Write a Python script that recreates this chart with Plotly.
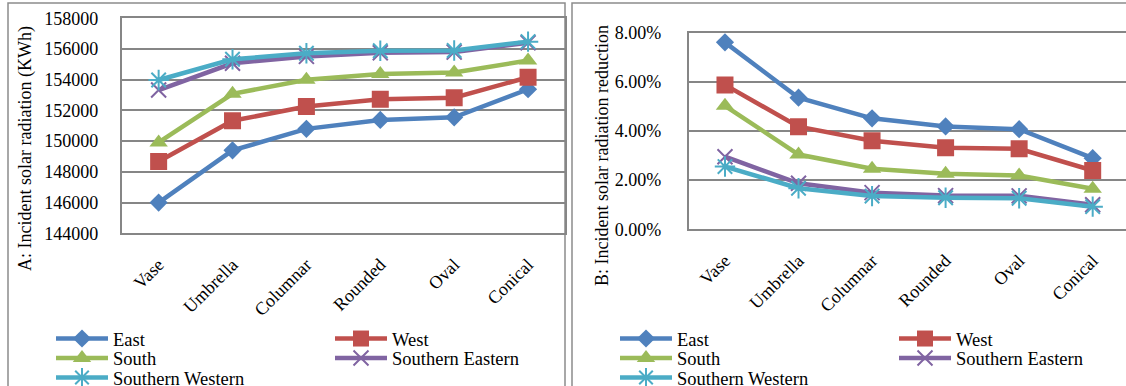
import plotly.graph_objects as go

categories = ["Vase", "Umbrella", "Columnar", "Rounded", "Oval", "Conical"]
series_names = ["East", "West", "South", "Southern Eastern", "Southern Western"]

# Panel A: incident solar radiation (KWh)
a_east = [146000, 149400, 150800, 151380, 151550, 153380]
a_west = [148680, 151330, 152250, 152730, 152830, 154160]
a_south = [149920, 153080, 154000, 154370, 154470, 155250]
a_se = [153330, 155070, 155520, 155760, 155800, 156410]
a_sw = [153980, 155330, 155720, 155890, 155900, 156480]

# Panel B: incident solar radiation reduction (fraction)
b_east = [0.0760, 0.0535, 0.0451, 0.0418, 0.0407, 0.0289]
b_west = [0.0587, 0.0417, 0.0360, 0.0332, 0.0327, 0.0239]
b_south = [0.0502, 0.0304, 0.0246, 0.0226, 0.0219, 0.0165]
b_se = [0.0295, 0.0187, 0.0149, 0.0137, 0.0136, 0.0100]
b_sw = [0.0255, 0.0167, 0.0135, 0.0128, 0.0126, 0.0092]

a_ticks = [144000, 146000, 148000, 150000, 152000, 154000, 156000, 158000]
b_ticks = [0.0, 0.02, 0.04, 0.06, 0.08]

colors = ["#4F81BD", "#C0504D", "#9BBB59", "#8064A2", "#4BACC6"]
symbols = ["diamond", "square", "triangle-up", "x-thin-open", "asterisk-open"]
msizes = [14, 17, 16, 15, 17]
# legend grid slot for each series: (column, row)
legend_slot = [(0, 0), (1, 0), (0, 1), (1, 1), (0, 2)]

W, H = 1126, 386
FONT = "Liberation Serif, Times New Roman, serif"
GRID = "#868686"

def px_x(p):
    return p / W

def px_y(p):
    return 1 - p / H

fig = go.Figure()

a_data = [a_east, a_west, a_south, a_se, a_sw]
b_data = [b_east, b_west, b_south, b_se, b_sw]

LEG_FONT = dict(family=FONT, size=18.5, color="#000")
col_x = {"A": [51, 330], "B": [615, 894]}
row_y = [339, 358.5, 378]

legends = {}
n = 0
for panel, data, xa, ya in [("A", a_data, "x", "y"), ("B", b_data, "x2", "y2")]:
    for i, name in enumerate(series_names):
        n += 1
        lid = "legend" if n == 1 else f"legend{n}"
        c, r = legend_slot[i]
        legends[lid] = dict(orientation="v", x=px_x(col_x[panel][c]), y=px_y(row_y[r]),
                            xanchor="left", yanchor="middle", font=LEG_FONT,
                            bgcolor="rgba(0,0,0,0)", itemwidth=52, borderwidth=0)
        mk = dict(symbol=symbols[i], size=msizes[i], color=colors[i])
        if "open" in symbols[i]:
            mk["line"] = dict(color=colors[i], width=2)
        fig.add_trace(go.Scatter(
            x=categories, y=data[i], name=name, mode="lines+markers",
            line=dict(color=colors[i], width=4.5), marker=mk,
            xaxis=xa, yaxis=ya, legend=lid))

axis_common = dict(showline=True, linecolor=GRID, linewidth=1.5, mirror=True,
                   zeroline=False, ticks="", tickfont=dict(family=FONT, size=18, color="#000"))

fig.update_layout(
    width=W, height=H,
    margin=dict(l=0, r=0, t=0, b=0, autoexpand=False),
    paper_bgcolor="white", plot_bgcolor="white",
    showlegend=True,
    xaxis=dict(domain=[px_x(121.7), px_x(565)], type="category", range=[-0.5, 5.5],
               anchor="y", tickangle=-45, showgrid=False, ticklabelstandoff=12, **axis_common),
    yaxis=dict(domain=[px_y(233.3), px_y(18.3)], range=[144000, 158000], tickvals=a_ticks,
               tickformat="d", anchor="x", showgrid=True, gridcolor=GRID, gridwidth=1.5,
               ticklabelstandoff=18, **axis_common),
    xaxis2=dict(domain=[px_x(688.5), 1.0], type="category", range=[-0.496, 5.453],
                anchor="y2", tickangle=-45, showgrid=False, ticklabelstandoff=12, **axis_common),
    yaxis2=dict(domain=[px_y(229.3), px_y(32.5)], range=[0, 0.08], tickvals=b_ticks,
                tickformat=".2%", anchor="x2", showgrid=True, gridcolor=GRID, gridwidth=1.5,
                ticklabelstandoff=22, **axis_common),
    annotations=[
        dict(text="A: Incident solar radiation (KWh)", x=px_x(25), y=px_y(149), xref="paper", yref="paper",
             showarrow=False, textangle=-90, font=dict(family=FONT, size=18, color="#000"),
             xanchor="center", yanchor="middle"),
        dict(text="B: Incident solar radiation reduction", x=px_x(602), y=px_y(156), xref="paper", yref="paper",
             showarrow=False, textangle=-90, font=dict(family=FONT, size=18, color="#000"),
             xanchor="center", yanchor="middle"),
    ],
    shapes=[
        dict(type="rect", xref="paper", yref="paper", x0=px_x(8), x1=px_x(565), y0=-0.05, y1=px_y(3),
             line=dict(color="#8c8c8c", width=1.5), fillcolor="rgba(0,0,0,0)", layer="below"),
        dict(type="rect", xref="paper", yref="paper", x0=px_x(572), x1=1.05, y0=-0.05, y1=px_y(3),
             line=dict(color="#8c8c8c", width=1.5), fillcolor="rgba(0,0,0,0)", layer="below"),
    ],
)
fig.update_layout(**legends)

fig.write_html("out.html", config={"displayModeBar": False},
               post_script="document.body.style.margin='0px';")
